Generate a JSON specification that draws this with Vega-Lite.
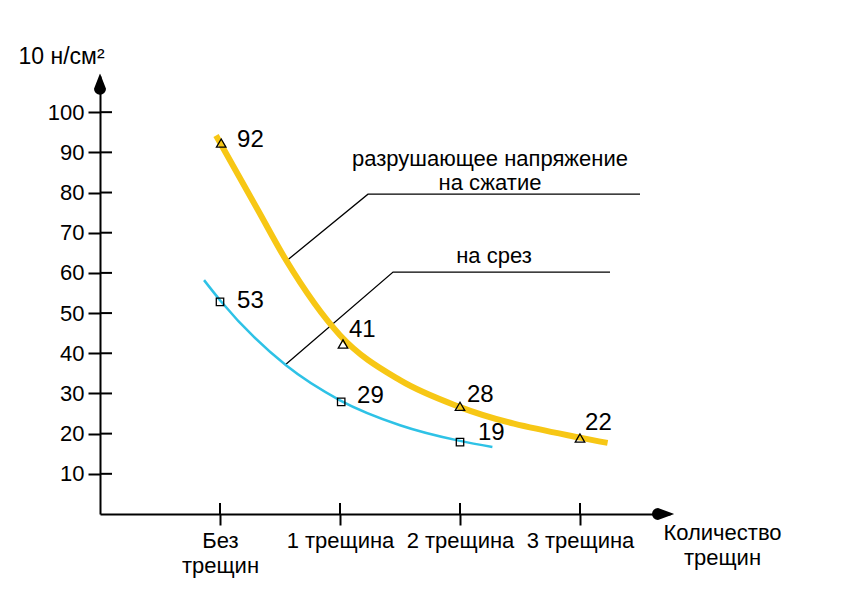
{
  "$schema": "https://vega.github.io/schema/vega-lite/v6.json",
  "width": 570,
  "height": 438,
  "autosize": {"type": "none"},
  "padding": {"left": 100, "top": 76, "right": 175, "bottom": 92},
  "background": "white",
  "config": {"view": {"stroke": null}, "font": "Liberation Sans"},
  "datasets": {
    "curves": [
      {"s": "сжатие", "x": -0.033, "y": 94.2},
      {"s": "сжатие", "x": 0.317, "y": 75.6},
      {"s": "сжатие", "x": 0.55, "y": 63.2},
      {"s": "сжатие", "x": 1.0, "y": 44.5},
      {"s": "сжатие", "x": 1.5, "y": 33.3},
      {"s": "сжатие", "x": 2.0, "y": 26.6},
      {"s": "сжатие", "x": 3.0, "y": 19.0},
      {"s": "сжатие", "x": 3.23, "y": 17.7},
      {"s": "срез", "x": -0.133, "y": 58.2},
      {"s": "срез", "x": 0.0, "y": 53.2},
      {"s": "срез", "x": 0.55, "y": 37.0},
      {"s": "срез", "x": 1.0, "y": 28.3},
      {"s": "срез", "x": 1.5, "y": 22.1},
      {"s": "срез", "x": 2.0, "y": 18.2},
      {"s": "срез", "x": 2.27, "y": 16.7}
    ],
    "markers": [
      {"s": "сжатие", "x": 0.01, "y": 92.3},
      {"s": "сжатие", "x": 1.025, "y": 42.3},
      {"s": "сжатие", "x": 2.0, "y": 26.8},
      {"s": "сжатие", "x": 3.0, "y": 18.9},
      {"s": "срез", "x": 0.0, "y": 52.8},
      {"s": "срез", "x": 1.01, "y": 27.9},
      {"s": "срез", "x": 2.0, "y": 17.9}
    ],
    "values": [
      {"t": "92", "x": 0.142, "y": 93.1},
      {"t": "53", "x": 0.142, "y": 53.0},
      {"t": "41", "x": 1.075, "y": 45.8},
      {"t": "29", "x": 1.142, "y": 29.4},
      {"t": "28", "x": 2.058, "y": 29.6},
      {"t": "19", "x": 2.15, "y": 20.2},
      {"t": "22", "x": 3.042, "y": 22.6}
    ],
    "leaders": [
      {"g": "a", "o": 1, "x": 0.542, "y": 62.7},
      {"g": "a", "o": 2, "x": 1.233, "y": 79.6},
      {"g": "a", "o": 3, "x": 3.5, "y": 79.6},
      {"g": "b", "o": 1, "x": 0.542, "y": 37.1},
      {"g": "b", "o": 2, "x": 1.442, "y": 60.2},
      {"g": "b", "o": 3, "x": 3.25, "y": 60.2}
    ],
    "notes": [
      {"t": "разрушающее напряжение", "x": 2.25, "y": 86.6},
      {"t": "на сжатие", "x": 2.25, "y": 80.6},
      {"t": "на срез", "x": 2.283, "y": 62.5}
    ],
    "yticks": [
      {"x": -1, "x2": -0.9, "y": 10}, {"x": -1, "x2": -0.9, "y": 20}, {"x": -1, "x2": -0.9, "y": 30},
      {"x": -1, "x2": -0.9, "y": 40}, {"x": -1, "x2": -0.9, "y": 50}, {"x": -1, "x2": -0.9, "y": 60},
      {"x": -1, "x2": -0.9, "y": 70}, {"x": -1, "x2": -0.9, "y": 80}, {"x": -1, "x2": -0.9, "y": 90},
      {"x": -1, "x2": -0.9, "y": 100}
    ],
    "xticks": [
      {"x": 0, "y": 0, "y2": 2.74}, {"x": 1, "y": 0, "y2": 2.74},
      {"x": 2, "y": 0, "y2": 2.74}, {"x": 3, "y": 0, "y2": 2.74}
    ],
    "heads": [
      {"g": "y", "o": 1, "x": -1, "y": 105.8, "w": 12},
      {"g": "y", "o": 2, "x": -1, "y": 109.5, "w": 0.5},
      {"g": "x", "o": 1, "x": 3.65, "y": 0, "w": 12},
      {"g": "x", "o": 2, "x": 3.78, "y": 0, "w": 0.5}
    ]
  },
  "encoding": {
    "x": {
      "field": "x",
      "type": "quantitative",
      "scale": {"domain": [-1, 3.75], "nice": false, "zero": false},
      "axis": {
        "values": [0, 1, 2, 3],
        "labelExpr": "datum.value == 0 ? ['Без', 'трещин'] : datum.value + ' трещина'",
        "grid": false,
        "domainWidth": 2,
        "domainColor": "black",
        "tickSize": 11,
        "tickWidth": 2,
        "tickColor": "black",
        "labelFontSize": 22,
        "labelColor": "black",
        "labelPadding": 5,
        "labelLineHeight": 25,
        "labelFlush": false,
        "labelOverlap": false,
        "title": ["Количество", "трещин"],
        "titleFontSize": 22,
        "titleFontWeight": "normal",
        "titleColor": "black",
        "titleX": 622,
        "titleY": 8,
        "titleAlign": "center",
        "titleBaseline": "top",
        "titleLineHeight": 25
      }
    },
    "y": {
      "field": "y",
      "type": "quantitative",
      "scale": {"domain": [0, 109], "nice": false, "zero": false},
      "axis": {
        "values": [10, 20, 30, 40, 50, 60, 70, 80, 90, 100],
        "grid": false,
        "domainWidth": 2,
        "domainColor": "black",
        "tickSize": 12,
        "tickWidth": 2,
        "tickColor": "black",
        "labelFontSize": 22,
        "labelColor": "black",
        "labelPadding": 4,
        "title": "10 н/см²",
        "titleAngle": 0,
        "titleFontSize": 23,
        "titleFontWeight": "normal",
        "titleColor": "black",
        "titleX": -82,
        "titleY": -20,
        "titleAlign": "left",
        "titleBaseline": "middle"
      }
    }
  },
  "layer": [
    {
      "data": {"name": "yticks"},
      "mark": {"type": "rule", "color": "black", "strokeWidth": 2},
      "encoding": {
        "x2": {"field": "x2"}
      }
    },
    {
      "data": {"name": "xticks"},
      "mark": {"type": "rule", "color": "black", "strokeWidth": 2},
      "encoding": {
        "y2": {"field": "y2"}
      }
    },
    {
      "data": {"name": "leaders"},
      "mark": {"type": "line", "color": "black", "strokeWidth": 1.3},
      "encoding": {
        "detail": {"field": "g", "type": "nominal"},
        "order": {"field": "o", "type": "quantitative"}
      }
    },
    {
      "data": {"name": "curves"},
      "mark": {"type": "line", "interpolate": "monotone", "strokeCap": "butt"},
      "encoding": {
        "color": {"field": "s", "type": "nominal", "scale": {"domain": ["сжатие", "срез"], "range": ["#F7C715", "#2EC2E6"]}, "legend": null},
        "strokeWidth": {"field": "s", "type": "nominal", "scale": {"domain": ["сжатие", "срез"], "range": [6, 2.5]}, "legend": null}
      }
    },
    {
      "data": {"name": "markers"},
      "transform": [{"filter": "datum.s == 'сжатие'"}],
      "mark": {"type": "point", "shape": "triangle-up", "filled": false, "color": "black", "strokeWidth": 1.3, "opacity": 1, "size": 90}
    },
    {
      "data": {"name": "markers"},
      "transform": [{"filter": "datum.s == 'срез'"}],
      "mark": {"type": "point", "shape": "square", "filled": false, "color": "black", "strokeWidth": 1.3, "opacity": 1, "size": 55}
    },
    {
      "data": {"name": "values"},
      "mark": {"type": "text", "align": "left", "baseline": "middle", "fontSize": 24, "color": "black"},
      "encoding": {"text": {"field": "t", "type": "nominal"}}
    },
    {
      "data": {"name": "notes"},
      "mark": {"type": "text", "align": "center", "baseline": "alphabetic", "fontSize": 22, "color": "black"},
      "encoding": {"text": {"field": "t", "type": "nominal"}}
    },
    {
      "data": {"name": "heads"},
      "mark": {"type": "trail", "color": "black", "opacity": 1},
      "encoding": {
        "detail": {"field": "g", "type": "nominal"},
        "order": {"field": "o", "type": "quantitative"},
        "size": {"field": "w", "type": "quantitative", "scale": {"domain": [0, 12], "range": [0, 12], "zero": true}, "legend": null}
      }
    }
  ]
}
